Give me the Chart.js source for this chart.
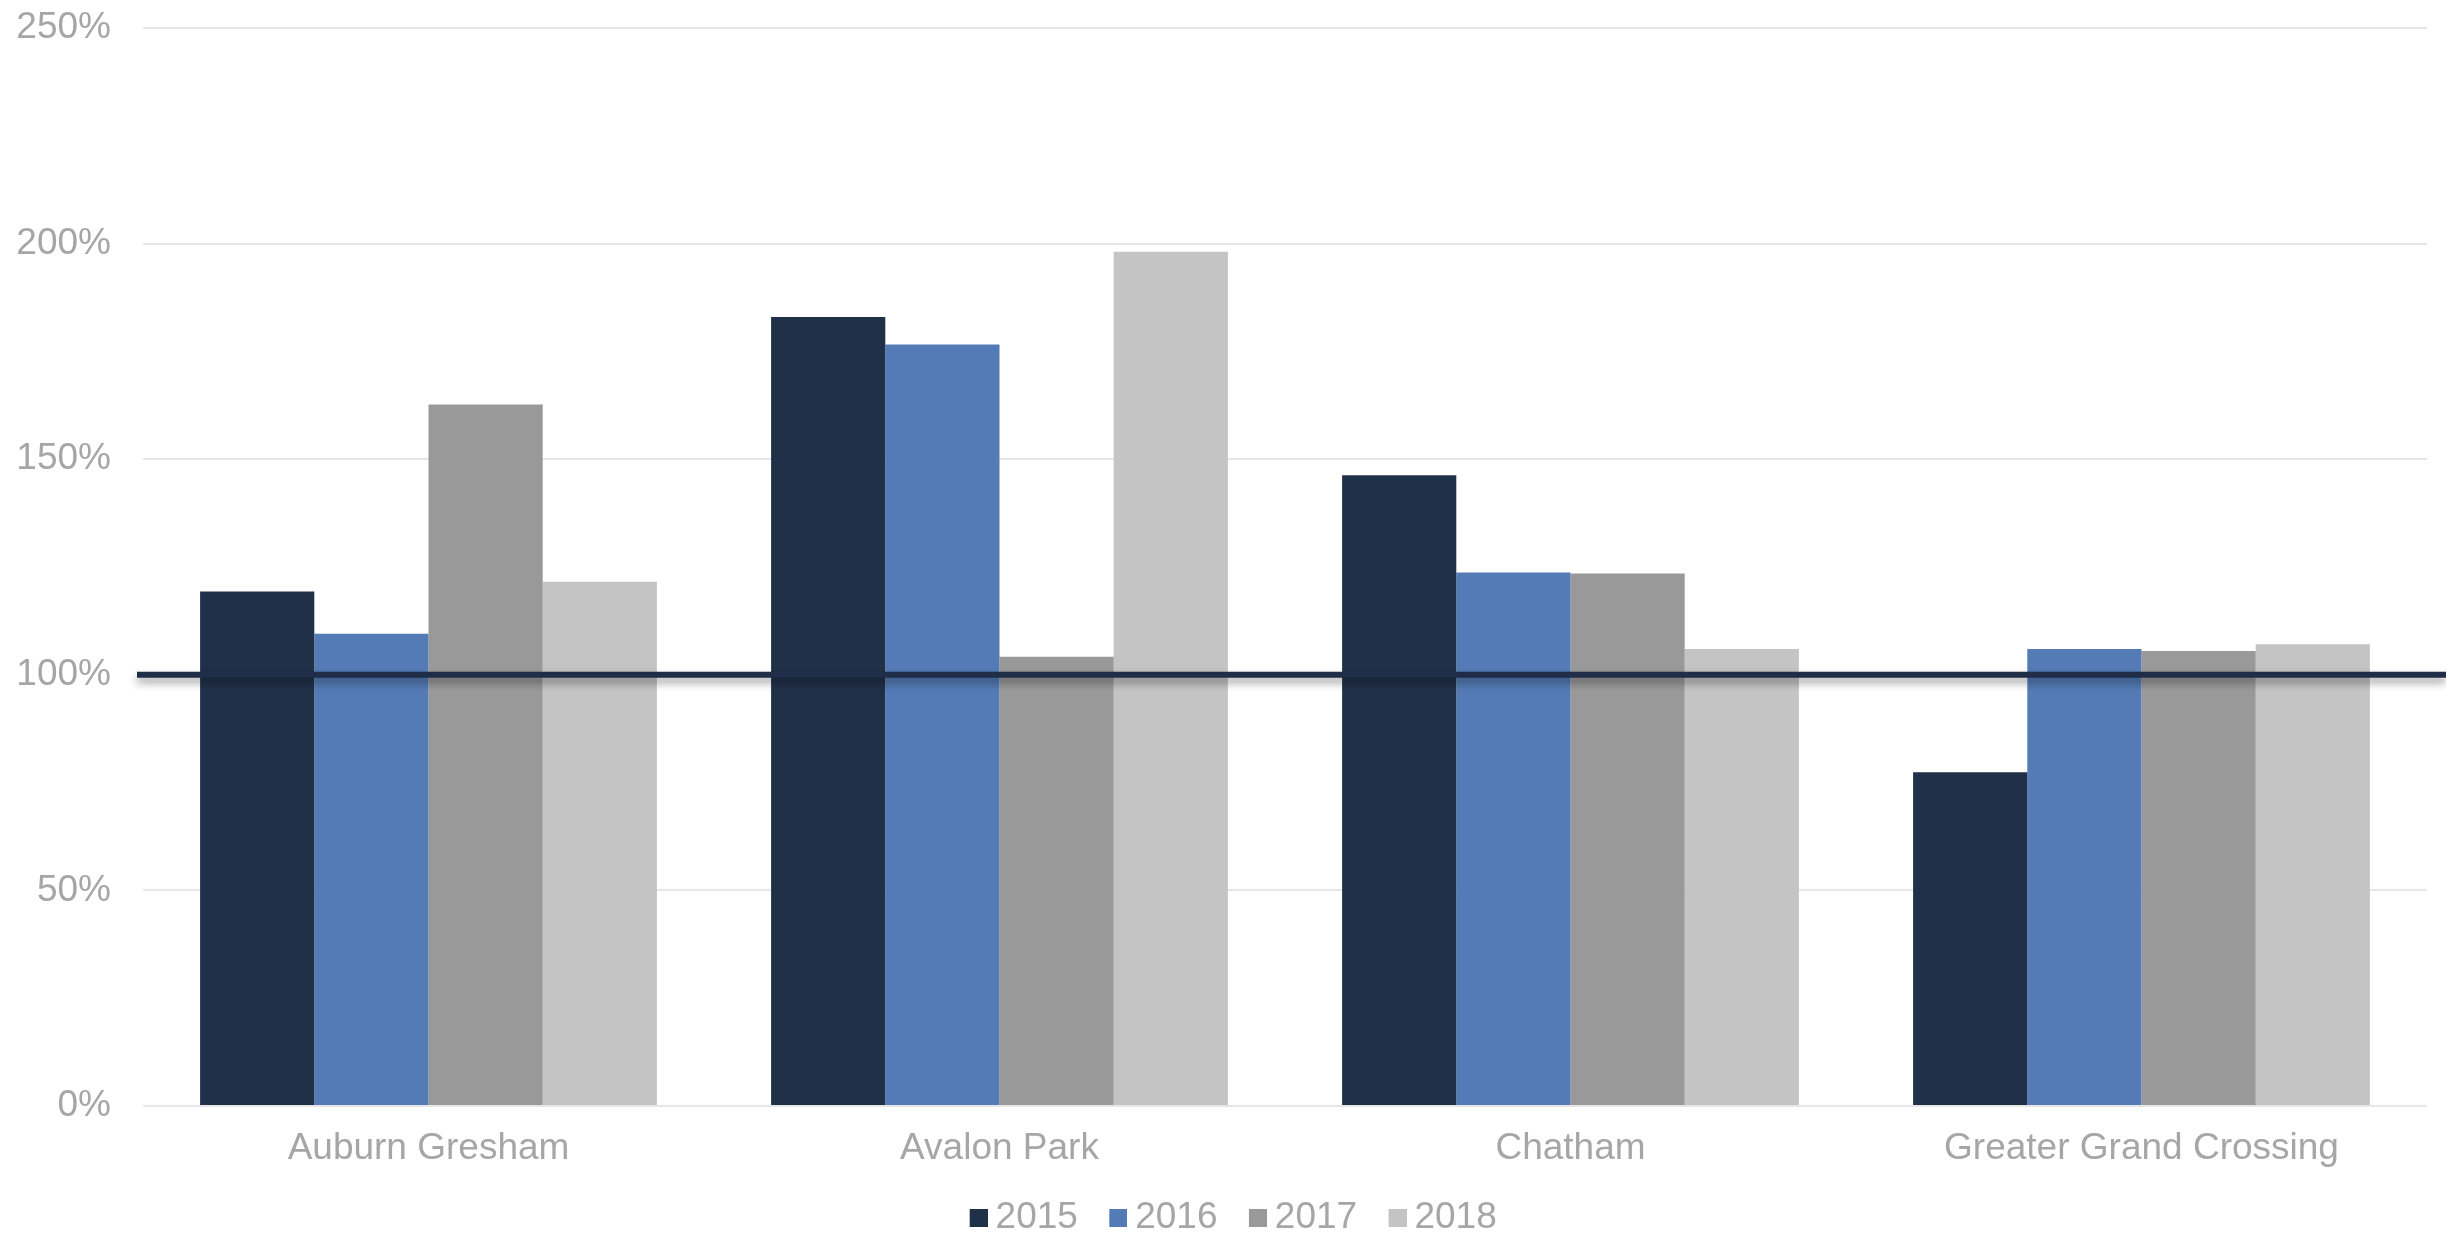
<!DOCTYPE html>
<html>
<head>
<meta charset="utf-8">
<script src="https://cdn.jsdelivr.net/npm/chart.js@4/dist/chart.umd.min.js"></script>
<style>
  html, body { margin: 0; padding: 0; background: #ffffff; }
  #wrap { width: 2446px; height: 1236px; position: relative; }
</style>
</head>
<body>
<div id="wrap"><canvas id="chart" width="2446" height="1236"></canvas></div>
<script>
// Community areas on the x axis
const categories = ['Auburn Gresham', 'Avalon Park', 'Chatham', 'Greater Grand Crossing'];

// Yearly values, in percent
const years = ['2015', '2016', '2017', '2018'];
const values2015 = [119.3, 183.0, 146.3, 77.4];
const values2016 = [109.5, 176.6, 123.7, 106.0];
const values2017 = [162.7, 104.2, 123.5, 105.5];
const values2018 = [121.6, 198.1, 106.0, 107.1];

// Y axis range and step
const yMin = 0;
const yMax = 250;
const yStep = 50;

// Reference level drawn across the plot
const benchmark = 100;

const seriesColors = ['#203049', '#547BB5', '#999999', '#C4C4C4'];
const textColor = '#A6A6A6';
const fontFamily = '"Liberation Sans", Arial, sans-serif';

const seriesValues = [values2015, values2016, values2017, values2018];

// Small square legend swatches, placed at the right of a wider image
// so that each square sits close to its label
const legendSwatches = seriesColors.map((color) => {
  const c = document.createElement('canvas');
  c.width = 39;
  c.height = 18;
  const g = c.getContext('2d');
  g.fillStyle = color;
  g.fillRect(21, 0, 18, 18);
  return c;
});

// Thick dark line at the benchmark value, with a soft drop shadow
const benchmarkLine = {
  id: 'benchmarkLine',
  afterDatasetsDraw(chart) {
    const { ctx, chartArea, scales } = chart;
    const y = scales.y.getPixelForValue(benchmark);
    ctx.save();
    ctx.strokeStyle = '#1F2D48';
    ctx.lineWidth = 6;
    ctx.shadowColor = 'rgba(0,0,0,0.4)';
    ctx.shadowBlur = 8;
    ctx.shadowOffsetY = 5;
    ctx.beginPath();
    ctx.moveTo(chartArea.left - 6, y);
    ctx.lineTo(chart.width, y);
    ctx.stroke();
    ctx.restore();
  }
};

// Nudge the legend row a little to the right
const legendShift = {
  id: 'legendShift',
  afterLayout(chart) {
    if (chart.legend) {
      chart.legend.left += 6;
      chart.legend.right += 6;
    }
  }
};

new Chart(document.getElementById('chart'), {
  type: 'bar',
  data: {
    labels: categories,
    datasets: years.map((year, i) => ({
      label: year,
      data: seriesValues[i],
      backgroundColor: seriesColors[i],
      borderWidth: 0,
      categoryPercentage: 0.8,
      barPercentage: 1.0
    }))
  },
  options: {
    responsive: false,
    animation: false,
    devicePixelRatio: 1,
    layout: { padding: { left: 17, right: 19, top: 28, bottom: -10 } },
    plugins: {
      tooltip: { enabled: false },
      legend: {
        position: 'bottom',
        labels: {
          usePointStyle: true,
          boxWidth: 17.8,
          boxHeight: 18,
          padding: 21,
          color: textColor,
          font: { family: fontFamily, size: 37 },
          generateLabels: (chart) =>
            Chart.defaults.plugins.legend.labels.generateLabels(chart)
              .map((item, i) => ({ ...item, pointStyle: legendSwatches[i] }))
        }
      }
    },
    scales: {
      x: {
        grid: { display: false, drawTicks: false },
        border: { display: false },
        ticks: {
          color: textColor,
          font: { family: fontFamily, size: 37 },
          padding: 21
        },
        afterFit(scale) { scale.height = 72; }
      },
      y: {
        min: yMin,
        max: yMax,
        grid: { color: '#E6E6E6', lineWidth: 2, drawTicks: false },
        border: { display: false },
        ticks: {
          stepSize: yStep,
          color: textColor,
          font: { family: fontFamily, size: 37 },
          padding: 32,
          callback: (v) => v + '%'
        },
        afterFit(scale) {
          scale.width = 126;
          scale.paddingTop = 0;
        }
      }
    }
  },
  plugins: [benchmarkLine, legendShift]
});
</script>
</body>
</html>
